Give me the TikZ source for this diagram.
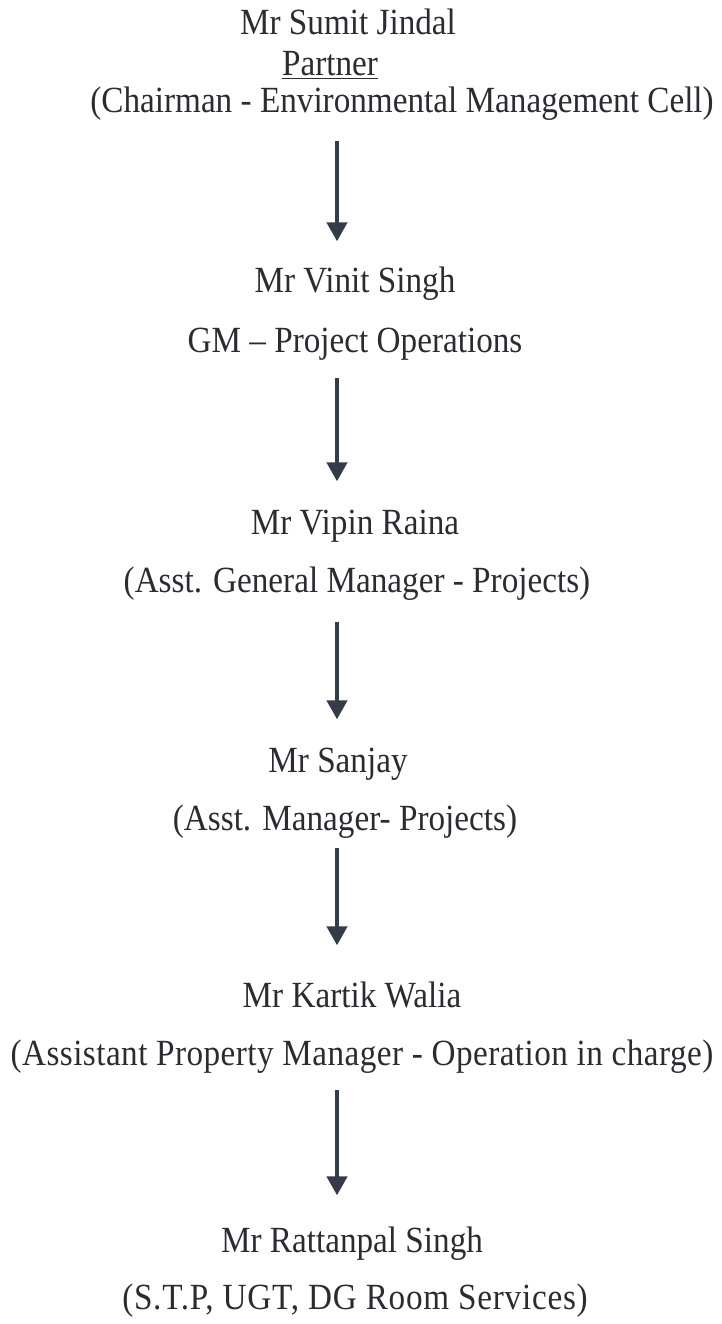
\documentclass[tikz,border=0pt]{standalone}
\usepackage{fontspec}
\setmainfont{Liberation Serif}[FakeStretch=0.9]
\usepackage{tikz}
\usetikzlibrary{arrows.meta}
\definecolor{inkgray}{HTML}{2B2C31}
\definecolor{arrowslate}{HTML}{363B48}

\begin{document}
\begin{tikzpicture}[
	x=0.02cm, y=-0.02cm,
	font=\fontsize{21}{25}\selectfont,
	every node/.style={anchor=base, inner sep=0pt, text height=0.7em, text depth=0.25em, text=inkgray},
	link/.style={line width=2.5pt, draw=arrowslate, -{Triangle[length=0.38cm, width=0.4cm]}}
	]
	\useasboundingbox (0,0) rectangle (721,1324);

	\coordinate (axis) at (337,0);

	\node (n1) at (348,35) {Mr Sumit Jindal};
	\node (r1) at (330,76) {\underline{Partner}};
	\node (t1) at (402,113) {(Chairman - Environmental Management Cell)};

	\node (n2) at (355,293) {Mr Vinit Singh};
	\node (t2) at (355,352) {GM -- Project Operations};

	\node (n3) at (355,534) {Mr Vipin Raina};
	\node (t3) at (357,592) {(Asst. General Manager - Projects)};

	\node (n4) at (338,772) {Mr Sanjay};
	\node (t4) at (345,830) {(Asst. Manager- Projects)};

	\node (n5) at (352,1007) {Mr Kartik Walia};
	\node (t5) at (362,1065) {\addfontfeature{LetterSpace=1.2}(Assistant Property Manager - Operation in charge)};

	\node (n6) at (352,1252) {Mr Rattanpal Singh};
	\node (t6) at (355,1309) {\addfontfeature{LetterSpace=2}(S.T.P, UGT, DG Room Services)};

	\foreach \a / \b / \s / \e in {
	t1/n2/0.46/0.78,
	t2/n3/0.42/0.80,
	t3/n4/0.50/0.80,
	t4/n5/0.26/0.98,
	t5/n6/0.40/0.88}
	{
		\draw[link, shorten <=\s cm, shorten >=\e cm] (\a.south -| axis) -- (\b.north -| axis);
	};
\end{tikzpicture}
\end{document}
